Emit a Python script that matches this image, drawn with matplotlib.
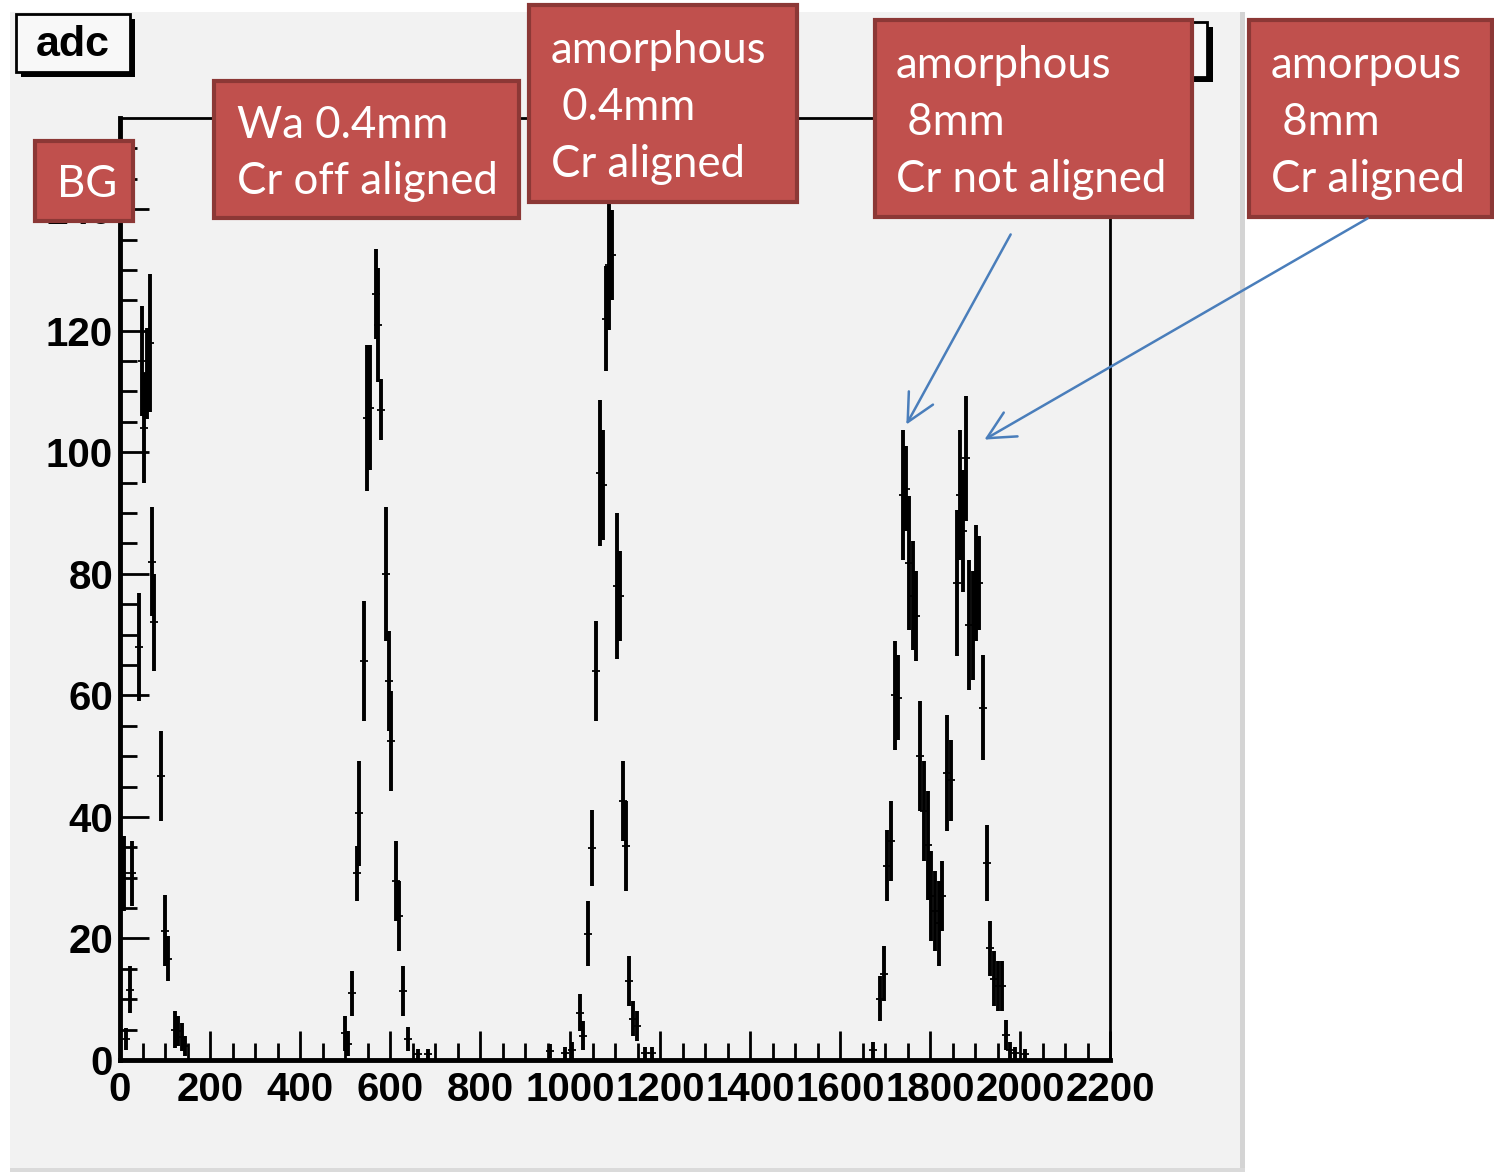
"""
adc scan: background, Wa 0.4mm, amorphous 0.4mm and 8mm targets
ROOT-style histogram with error bars and slide annotations on top
"""
import matplotlib
matplotlib.use("Agg")
import matplotlib.pyplot as plt
from matplotlib.patches import Rectangle, FancyArrowPatch
import numpy as np

# Canvas size in pixels
W, H = 1494, 1175
DPI = 100

# ---- data ----
bg_x = [9, 13, 22, 27, 42, 49, 53, 60, 67, 72, 76, 91, 100, 107, 122, 129, 138, 144]
bg_y = [30.7, 3.4, 11.6, 30.7, 68, 115, 104, 113, 118, 82, 72, 46.8, 21.3, 16.7, 5, 4.8, 3.8, 2.3]
bg_err = [6.2, 1.8, 3.9, 5.4, 8.9, 9, 9, 7.5, 11.4, 9, 8, 7.4, 5.8, 3.7, 3.1, 2.5, 2.3, 1.6]

wa_x = [500, 507, 516, 527, 531, 542, 549, 556, 569, 573, 580, 591, 598, 602, 613, 620, 629, 640, 662, 684]
wa_y = [4.4, 2.7, 11, 30.7, 40.6, 65.7, 105.7, 107.3, 126, 121, 107, 80, 62.4, 52.5, 29.5, 23.7, 11.4, 3.5, 1, 1]
wa_err = [2.9, 2, 3.7, 4.5, 8.6, 9.9, 12, 10.3, 7.4, 9.4, 5, 11, 8.2, 8.2, 6.6, 5.8, 4.1, 2, 0.8, 0.8]

am04_x = [956, 989, 1004, 1022, 1029, 1040, 1049, 1058, 1067, 1073, 1080, 1087, 1093,
          1104, 1111, 1118, 1124, 1131, 1140, 1149, 1167, 1182]
am04_y = [1.5, 1.2, 1.6, 7.8, 4, 20.8, 34.9, 64, 96.6, 94.6, 122, 130.8, 132.4,
          78, 76.4, 42.6, 35.2, 13, 6.8, 5.6, 1.2, 1.2]
am04_err = [1.2, 1, 1.4, 3, 2.4, 5.4, 6.2, 8.2, 12, 9, 8.6, 10.7, 7.4,
            12, 7.4, 6.6, 7.4, 4.1, 2.9, 2.5, 1, 1]

am8n_x = [1673, 1689, 1698, 1704, 1713, 1722, 1729, 1740, 1747, 1753, 1762, 1769,
          1778, 1787, 1796, 1802, 1811, 1820, 1827, 1838, 1847]
am8n_y = [1.6, 10.1, 14.2, 32, 36, 60, 59.6, 93, 94, 81.8, 76.4, 73.1,
          50, 41, 35.3, 27, 24.5, 22.5, 27, 47.2, 46]
am8n_err = [1.4, 3.7, 4.5, 5.8, 6.6, 9, 7, 10.7, 7, 11, 9, 7.4,
            9, 8.2, 9, 7.4, 6.6, 7, 5.8, 9.5, 6.6]

am8a_x = [1860, 1867, 1873, 1880, 1887, 1896, 1902, 1909, 1918, 1927, 1933, 1942,
          1951, 1960, 1969, 1978, 1989, 2011]
am8a_y = [78.5, 93, 87, 99, 71.5, 71.5, 78.5, 78.5, 58, 32.4, 18.4, 13.4,
          12.2, 12.2, 4.1, 1.6, 1.2, 1]
am8a_err = [12, 10.7, 10, 10.3, 10.7, 9, 9.5, 7.8, 8.6, 6.2, 4.5, 4.5,
            4.1, 4.1, 2.5, 1.4, 1, 0.8]

BIN_HALF = 9

x_ticks = list(range(0, 2201, 200))
y_ticks = list(range(0, 141, 20))

# annotation boxes: (left, top, right, bottom) in pixels, text lines, text left edge
labels = [
    ((35, 141, 133, 221), ["BG"], 57),
    ((214, 81, 519, 218), ["Wa 0.4mm", "Cr off aligned"], 237),
    ((529, 5, 797, 202), ["amorphous", " 0.4mm", "Cr aligned"], 551),
    ((875, 20, 1192, 217), ["amorphous", " 8mm", "Cr not aligned"], 896),
    ((1249, 20, 1492, 217), ["amorpous", " 8mm", "Cr aligned"], 1271),
]

BOX_RED = "#c0504d"
BOX_EDGE = "#8c3836"
ARROW_BLUE = "#4a7ebb"
CANVAS = "#f2f2f2"


def fx(px):
    return px / W


def fy(py):
    return 1 - py / H


def frect(l, t, r, b, **kw):
    return Rectangle((fx(l), fy(b)), (r - l) / W, (b - t) / H,
                     transform=fig.transFigure, **kw)


fig = plt.figure(figsize=(W / DPI, H / DPI), dpi=DPI, facecolor="white")

# ROOT canvas background
fig.patches.append(frect(10, 12, 1240, 1170, facecolor=CANVAS, edgecolor="none", zorder=-10))
fig.patches.append(frect(1240, 12, 1245, 1170, facecolor="#d4d4d4", edgecolor="none", zorder=-10))
fig.patches.append(frect(10, 1168, 1245, 1172, facecolor="#dadada", edgecolor="none", zorder=-10))

ax = fig.add_axes([fx(120), fy(1060), (1110 - 120) / W, (1060 - 118) / H])
ax.set_facecolor(CANVAS)

for xs, ys, es in [(bg_x, bg_y, bg_err), (wa_x, wa_y, wa_err), (am04_x, am04_y, am04_err),
                   (am8n_x, am8n_y, am8n_err), (am8a_x, am8a_y, am8a_err)]:
    # vertical error bars (thick) and bin-width bars (thin)
    ax.errorbar(xs, ys, yerr=es, fmt="none", ecolor="black", elinewidth=2.8, capsize=0)
    ax.errorbar(xs, ys, xerr=BIN_HALF, fmt="none", ecolor="black", elinewidth=1.3, capsize=0)

ax.set_xlim(0, 2200)
ax.set_ylim(0, 155)
ax.set_xticks(x_ticks)
ax.set_xticklabels([str(v) for v in x_ticks])
ax.set_yticks(y_ticks)
ax.set_yticklabels([str(v) for v in y_ticks])
ax.set_xticks(np.arange(0, 2201, 50), minor=True)
ax.set_yticks(np.arange(0, 155, 5), minor=True)

tick_font = dict(family="Liberation Sans", weight="bold", size=29)
for lab in ax.get_xticklabels() + ax.get_yticklabels():
    lab.set_fontproperties(tick_font)

ax.tick_params(axis="both", which="major", direction="in", length=21, width=2, color="black")
ax.tick_params(axis="both", which="minor", direction="in", length=12, width=2, color="black")
ax.tick_params(axis="x", pad=8)
ax.tick_params(axis="y", pad=5)
ax.tick_params(top=False, right=False, which="both")

ax.spines["left"].set_linewidth(3.5)
ax.spines["bottom"].set_linewidth(3.5)
ax.spines["top"].set_linewidth(2)
ax.spines["right"].set_linewidth(2)

# title box "adc"
fig.patches.append(frect(21, 19, 135, 77, facecolor="black", edgecolor="none", zorder=4))
fig.patches.append(frect(16, 14, 130, 72, facecolor="#f8f8f8", edgecolor="black", lw=2, zorder=5))
fig.text(fx(73), fy(45), "adc", ha="center", va="center", family="Liberation Sans",
         weight="bold", size=31, zorder=6)

# stats box (mostly hidden)
fig.patches.append(frect(1100, 27, 1213, 82, facecolor="black", edgecolor="none", zorder=4))
fig.patches.append(frect(1095, 22, 1207, 77, facecolor="#f8f8f8", edgecolor="black", lw=2, zorder=5))
fig.lines.append(plt.Line2D([fx(1095), fx(1207)], [fy(36), fy(36)], transform=fig.transFigure,
                            color="black", lw=1.5, zorder=5))

# red annotation boxes
for (l, t, r, b), lines, tx in labels:
    fig.patches.append(frect(l, t, r, b, facecolor=BOX_RED, edgecolor=BOX_EDGE, lw=3, zorder=10))
    n = len(lines)
    mid = (t + b) / 2
    for i, s in enumerate(lines):
        ypix = mid + (i - (n - 1) / 2) * 57
        fig.text(fx(tx), fy(ypix), s, ha="left", va="center_baseline", color="white",
                 family="Lato", size=31.5, zorder=11)

# arrows
for (x0, y0), (x1, y1) in [((1012, 232), (905, 427)), ((1370, 217), (982, 441))]:
    arr = FancyArrowPatch((fx(x0), fy(y0)), (fx(x1), fy(y1)), transform=fig.transFigure,
                          arrowstyle="->,head_length=0.9,head_width=0.45", mutation_scale=22,
                          color=ARROW_BLUE, lw=1.8, zorder=12)
    fig.patches.append(arr)

fig.savefig("out.png", dpi=DPI, facecolor="white")
